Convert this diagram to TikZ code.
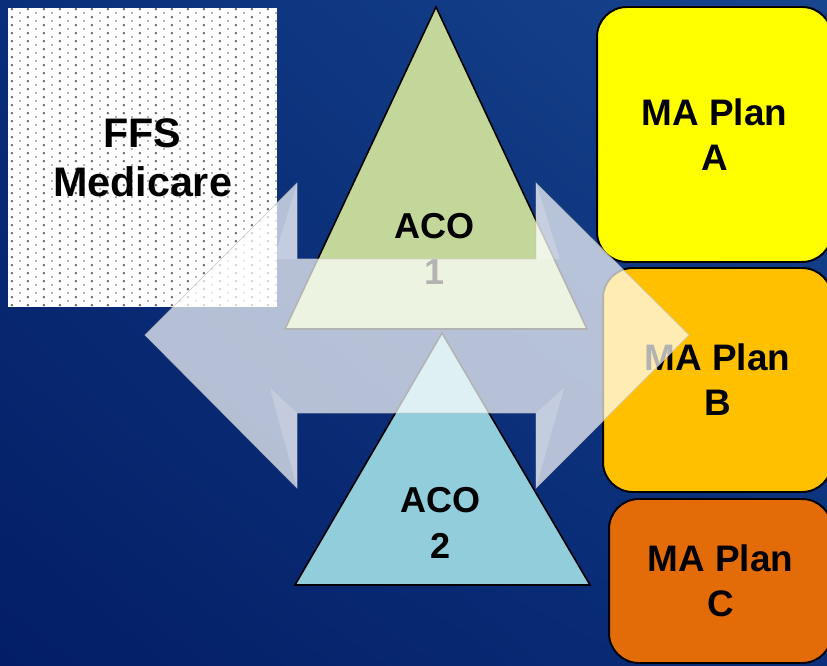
\documentclass[tikz,border=0pt]{standalone}
\usepackage{fontspec}
\setmainfont{Liberation Sans}
\usetikzlibrary{patterns.meta, shadings}
\definecolor{bgdark}{RGB}{3,30,100}
\definecolor{bgmid}{RGB}{10,46,122}
\definecolor{bglight}{RGB}{24,70,142}
\definecolor{acogreen}{RGB}{196,215,155}
\definecolor{acoblue}{RGB}{146,205,220}
\definecolor{planA}{RGB}{255,255,0}
\definecolor{planB}{RGB}{255,192,0}
\definecolor{planC}{RGB}{227,108,9}
\tikzdeclarepattern{
    name=stipple, type=uncolored,
    bounding box={(0pt,0pt) and (9.07pt,4.54pt)},
    tile size={(9.07pt,4.54pt)},
    code={
        \fill (6.8pt,1.1pt) circle (0.8pt);
        \fill (2.3pt,3.4pt) circle (0.5pt);
    }
}
\tikzset{
    big text/.style = {font=\bfseries\fontsize{21}{25.5}\selectfont, align=center},
    plan box/.style = {big text, draw, line width=1.1pt, rounded corners=17pt, inner sep=0pt},
    aco/.style = {draw, line width=0.9pt, line join=miter},
    flow arrow/.style = {fill=white, fill opacity=0.7, draw=gray!50, draw opacity=0.6, line width=0.5pt},
    bevel/.style = {fill=white, fill opacity=0.2},
}

\begin{document}
\begin{tikzpicture}[x=0.02cm, y=-0.02cm]
    \useasboundingbox (0, 0) rectangle (827, 665);
    \clip (0, 0) rectangle (827, 665);
    \shade[lower left=bgdark, upper left=bgmid, lower right=bgmid, upper right=bglight] (0, 0) rectangle (827, 665);

    \node[preaction={fill=white}, pattern=stipple, pattern color=black!60, minimum width=5.38cm, minimum height=5.98cm, inner sep=0pt,
        big text, font=\bfseries\fontsize{23.5}{27.8}\selectfont] (ffs) at (142.5, 157.5) {FFS\\Medicare};

    \node[plan box, fill=planA, minimum width=4.7cm, minimum height=5.1cm] (plan A) at (714.5, 134.5) {MA Plan\\A};
    \node[plan box, fill=planB, minimum width=4.58cm, minimum height=4.48cm] (plan B) at (717.5, 380) {MA Plan\\B};
    \node[plan box, fill=planC, minimum width=4.46cm, minimum height=3.28cm] (plan C) at (720.5, 581) {MA Plan\\C};

    \filldraw[aco, fill=acogreen] (436, 7) -- (587, 329) -- (285, 329) -- cycle;
    \filldraw[aco, fill=acoblue] (442, 333) -- (590, 585) -- (295, 585) -- cycle;
    \node[big text, font=\bfseries\fontsize{20.5}{25.8}\selectfont] (aco1) at (435, 249) {ACO\\1};
    \node[big text, font=\bfseries\fontsize{20.5}{25.8}\selectfont] (aco2) at (441, 523) {ACO\\2};

    \filldraw[flow arrow] (145, 335) -- (297, 183) -- (297, 259) -- (536, 259) -- (536, 183)
        -- (689, 335) -- (536, 488) -- (536, 413) -- (297, 413) -- (297, 488) -- cycle;
    \fill[bevel] (297, 183) -- (297, 259) -- (274, 259) -- cycle;
    \fill[bevel] (297, 488) -- (297, 413) -- (270, 388) -- cycle;
    \fill[bevel] (536, 183) -- (536, 259) -- (560, 259) -- cycle;
    \fill[bevel] (536, 488) -- (536, 413) -- (564, 388) -- cycle;
\end{tikzpicture}
\end{document}
